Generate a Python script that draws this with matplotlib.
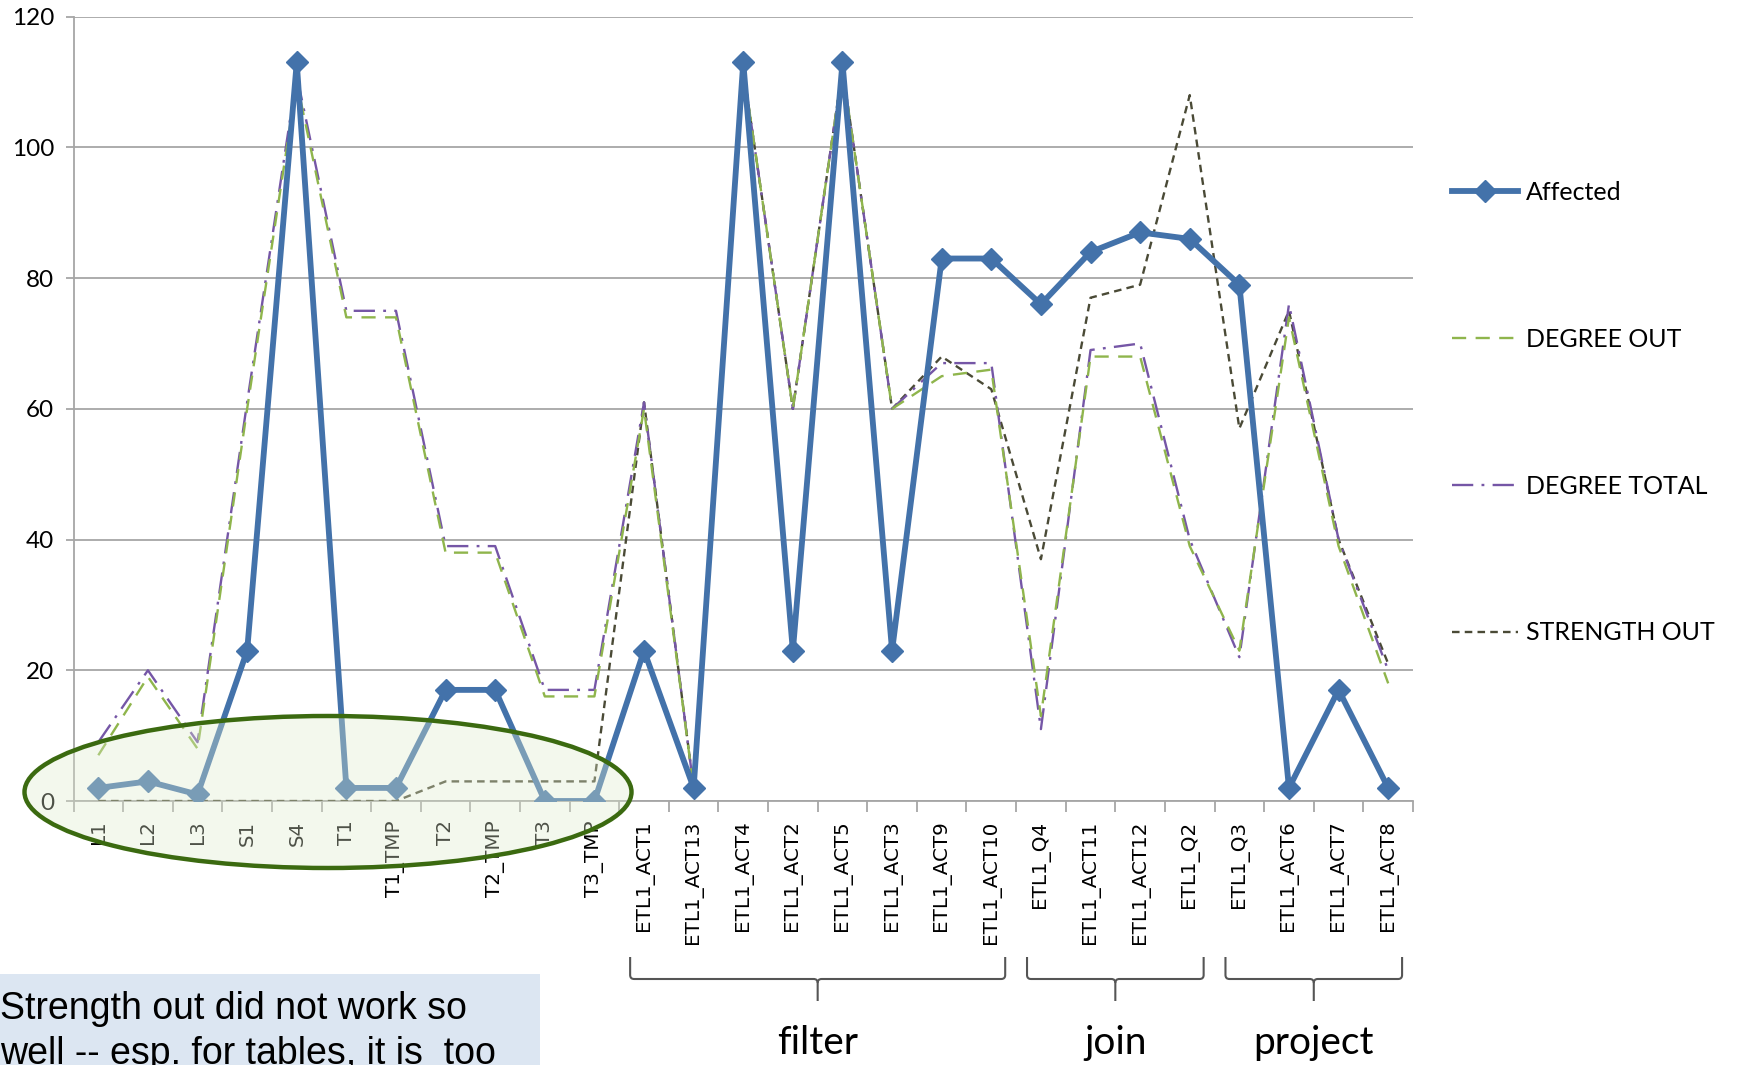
import matplotlib
matplotlib.use("Agg")
import matplotlib.pyplot as plt
import matplotlib.transforms as mtransforms
from matplotlib.patches import Ellipse, Rectangle, PathPatch
from matplotlib.path import Path
import numpy as np

categories = ['L1', 'L2', 'L3', 'S1', 'S4', 'T1', 'T1_TMP', 'T2', 'T2_TMP', 'T3', 'T3_TMP',
              'ETL1_ACT1', 'ETL1_ACT13', 'ETL1_ACT4', 'ETL1_ACT2', 'ETL1_ACT5', 'ETL1_ACT3',
              'ETL1_ACT9', 'ETL1_ACT10', 'ETL1_Q4', 'ETL1_ACT11', 'ETL1_ACT12', 'ETL1_Q2',
              'ETL1_Q3', 'ETL1_ACT6', 'ETL1_ACT7', 'ETL1_ACT8']

affected = [2, 3, 1, 23, 113, 2, 2, 17, 17, 0, 0, 23, 2, 113, 23, 113, 23, 83, 83,
            76, 84, 87, 86, 79, 2, 17, 2]
degree_out = [7, 19, 8, 60, 110, 74, 74, 38, 38, 16, 16, 60, 2, 112, 60, 112, 60, 65, 66,
              13, 68, 68, 39, 23, 74, 39, 18]
degree_total = [9, 20, 9, 61, 111, 75, 75, 39, 39, 17, 17, 61, 2, 112, 60, 112, 60, 67, 67,
                11, 69, 70, 40, 22, 76, 40, 20]
strength_out = [0, 0, 0, 0, 0, 0, 0, 3, 3, 3, 3, 61, 2, 112, 60, 112, 60, 68, 63,
                37, 77, 79, 108, 57, 75, 40, 21]

y_ticks = [0, 20, 40, 60, 80, 100, 120]

# operator groups under the ETL activities: (label, first index, last index)
group_names = ['filter', 'join', 'project']
group_first = [11, 19, 23]
group_last = [18, 22, 26]

note_lines = ['Strength out did not work so', 'well -- esp. for tables, it is  too']

W, H = 1745, 1065
fig = plt.figure(figsize=(W / 100, H / 100), dpi=100)
ax = fig.add_axes([73.5 / W, 1 - 801 / H, (1413 - 73.5) / W, (801 - 16.7) / H])

x = np.arange(len(categories))
grid_c = '#a6a6a6'

ax.plot(x, strength_out, color='#4a4a36', lw=1.7, dashes=(3.2, 2.2), label='STRENGTH OUT', zorder=3)
ax.plot(x, degree_total, color='#7556a6', lw=1.7, dashes=(9, 3.5, 1.2, 3.5), label='DEGREE TOTAL', zorder=3)
ax.plot(x, degree_out, color='#8fb54c', lw=1.7, dashes=(6, 4), label='DEGREE OUT', zorder=3)
ax.plot(x, affected, color='#4372aa', lw=4.2, marker='D', ms=11.5, label='Affected', zorder=4)

ax.set_xlim(-0.5, len(categories) - 0.5)
ax.set_ylim(0, 120)
ax.set_yticks(y_ticks)
ax.set_yticklabels([str(v) for v in y_ticks], family='Lato', fontsize=17.5)
ax.yaxis.grid(True, color=grid_c, lw=1.3)
ax.set_axisbelow(True)
ax.tick_params(axis='y', length=6, color=grid_c, width=1.3, pad=8)

ax.set_xticks(x)
ax.set_xticklabels(categories, rotation=90, family='DejaVu Sans', fontsize=14.3, va='top')
ax.set_xticks(np.arange(len(categories) + 1) - 0.5, minor=True)
ax.tick_params(axis='x', which='major', length=0, pad=14)
ax.tick_params(axis='x', which='minor', length=8, color=grid_c, width=1.3)

for s in ['top', 'right']:
    ax.spines[s].set_visible(False)
for s in ['left', 'bottom']:
    ax.spines[s].set_color(grid_c)
    ax.spines[s].set_linewidth(1.3)

# legend on the right with wide spacing between entries
handles, labels = ax.get_legend_handles_labels()
order = [3, 2, 1, 0]
leg = fig.legend([handles[i] for i in order], [labels[i] for i in order],
                 loc='upper left', bbox_to_anchor=(1452 / W, 1 - 181 / H),
                 frameon=False, prop={'family': 'Lato', 'size': 18},
                 handlelength=2.65, handletextpad=0.3, labelspacing=4.95,
                 borderaxespad=0, borderpad=0)

# highlight of the table/source nodes
ell = Ellipse((328 / W, 1 - 792 / H), 607 / W, 152 / H, transform=fig.transFigure,
              facecolor='#dfebce', alpha=0.35, edgecolor='none', zorder=10)
fig.patches.append(ell)
ell_edge = Ellipse((328 / W, 1 - 792 / H), 607 / W, 152 / H, transform=fig.transFigure,
                   facecolor='none', edgecolor='#3b6a10', lw=3.2, zorder=11)
fig.patches.append(ell_edge)

# curly braces grouping the ETL activities
btrans = mtransforms.blended_transform_factory(ax.transData, fig.transFigure)
y_top = 1 - 957 / H
y_mid = 1 - 979 / H
y_tip = 1 - 1001 / H
r = 4 / H
for name, a, b in zip(group_names, group_first, group_last):
    x0 = a - 0.5 + 0.22
    x1 = b + 0.5 - 0.22
    xm = (x0 + x1) / 2
    dx = 0.08
    verts = [(x0, y_top), (x0, y_mid + r), (x0, y_mid), (x0 + dx, y_mid),
             (xm - dx, y_mid), (xm, y_mid), (xm, y_mid - r), (xm, y_tip)]
    codes = [Path.MOVETO, Path.LINETO, Path.CURVE3, Path.CURVE3,
             Path.LINETO, Path.CURVE3, Path.CURVE3, Path.LINETO]
    verts2 = [(x1, y_top), (x1, y_mid + r), (x1, y_mid), (x1 - dx, y_mid),
              (xm + dx, y_mid), (xm, y_mid), (xm, y_mid - r)]
    codes2 = [Path.MOVETO, Path.LINETO, Path.CURVE3, Path.CURVE3,
              Path.LINETO, Path.CURVE3, Path.CURVE3]
    for v, c in ((verts, codes), (verts2, codes2)):
        p = PathPatch(Path(v, c), transform=btrans, facecolor='none',
                      edgecolor='#555555', lw=1.5, clip_on=False)
        fig.patches.append(p)
    fig.text(xm, 1 - 1043 / H, name, transform=btrans, ha='center', va='center',
             family='Lato', fontsize=28)

# note box in the lower left corner
fig.patches.append(Rectangle((0, 0), 540 / W, 91 / H, transform=fig.transFigure,
                             facecolor='#dce6f2', edgecolor='none', zorder=1))
fig.text(0, 1 - 1009 / H, note_lines[0], ha='left', va='center',
         family=['Liberation Sans Narrow', 'Liberation Sans'], fontsize=27, zorder=2)
fig.text(0, 1 - 1054 / H, note_lines[1], ha='left', va='center',
         family=['Liberation Sans Narrow', 'Liberation Sans'], fontsize=27, zorder=2)

fig.savefig('out.png', dpi=100)
